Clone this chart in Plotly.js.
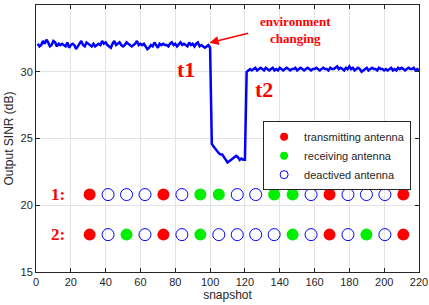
<!DOCTYPE html>
<html><head><meta charset="utf-8">
<script src="https://cdn.plot.ly/plotly-3.0.1.min.js"></script>
<style>html,body{margin:0;padding:0;background:#fff;}#chart{width:429px;height:305px;}</style>
</head><body><div id="chart"></div>
<script>
// SINR line, snapshots 1..220
const sinrBefore = [32.1,31.9,32.0,32.3,32.1,32.4,32.2,31.9,32.0,32.3,32.2,31.9,32.1,32.0,32.1,32.0,31.9,32.2,31.8,32.0,
  32.1,32.0,31.7,31.9,32.1,32.3,32.0,31.9,32.2,32.1,32.0,31.9,32.1,31.9,32.0,32.1,32.0,32.3,32.1,32.2,
  32.0,31.9,31.8,32.1,32.3,32.0,32.1,32.2,32.0,31.9,32.0,32.2,32.1,32.0,31.9,32.0,32.1,32.3,32.0,32.1,
  32.0,32.1,31.9,31.7,31.8,32.0,31.9,32.2,32.0,31.8,32.1,32.0,32.1,32.0,32.0,31.9,32.1,32.2,32.0,32.1,
  31.9,32.1,32.2,32.0,32.1,32.0,31.9,32.2,32.0,32.1,31.9,32.1,32.2,31.9,32.0,31.9,31.8,31.9,32.0,31.8];
const sinrDip = [24.6,24.4,24.2,24.0,23.9,23.8,23.8,23.6,23.4,23.2,23.3,23.4,23.5,23.6,23.7,23.6,23.4,23.5,23.4,23.4];
const sinrAfter = [30.0,30.1,30.2,30.1,30.2,30.3,30.1,30.2,30.3,30.2,30.1,30.3,30.2,30.1,30.2,30.3,30.1,30.2,30.1,30.3,
  30.2,30.1,30.2,30.3,30.2,30.1,30.2,30.2,30.3,30.1,30.2,30.3,30.2,30.1,30.2,30.3,30.2,30.1,30.2,30.2,
  30.3,30.2,30.1,30.2,30.3,30.2,30.2,30.1,30.3,30.2,30.2,30.3,30.4,30.2,30.3,30.2,30.1,30.3,30.2,30.4,
  30.2,30.3,30.1,30.2,30.3,30.2,30.0,30.1,30.2,30.3,30.1,30.2,30.3,30.2,30.2,30.1,30.3,30.2,30.2,30.1,
  30.2,30.1,30.2,30.3,30.1,30.2,30.1,30.3,30.2,30.3,30.2,30.1,30.2,30.3,30.2,30.2,30.3,30.1,30.2,30.1];
const sinr = sinrBefore.concat(sinrDip, sinrAfter);
const snapshots = sinr.map((_, i) => i + 1);

// antenna positions (snapshot axis) and states: T=transmitting, R=receiving, D=deactived
const antennaX = [30.8,41.4,52.0,62.6,73.2,83.8,94.4,105.0,115.6,126.2,136.8,147.4,158.0,168.6,179.2,189.8,200.4,211.0];
const row1Y = 20.8, row2Y = 17.8;
const row1 = ['T','D','D','D','T','D','R','R','D','D','R','R','D','T','D','D','D','T'];
const row2 = ['T','D','R','D','T','D','R','D','D','D','D','R','D','T','D','R','D','T'];
const legendNames = {T:'transmitting antenna', R:'receiving antenna', D:'deactived antenna'};

const markerStyle = {
  T: {color:'#ff0000', size:12, symbol:'circle'},
  R: {color:'#00ee00', size:12, symbol:'circle'},
  D: {color:'rgba(0,0,0,0)', size:12, symbol:'circle', line:{color:'#0000ff', width:1}}
};

const traces = [{
  x: snapshots, y: sinr, type:'scatter', mode:'lines',
  line:{color:'#0000ff', width:2.5}, showlegend:false, hoverinfo:'skip'
}];
['T','R','D'].forEach(k => {
  const xs = [], ys = [];
  row1.forEach((s,i)=>{ if(s===k){xs.push(antennaX[i]); ys.push(row1Y);} });
  row2.forEach((s,i)=>{ if(s===k){xs.push(antennaX[i]); ys.push(row2Y);} });
  traces.push({x:xs, y:ys, type:'scatter', mode:'markers', marker:markerStyle[k], showlegend:false});
});
['T','R','D'].forEach(k => {
  const m = Object.assign({}, markerStyle[k], {size:8});
  traces.push({x:[null], y:[null], type:'scatter', mode:'markers', marker:m, name:legendNames[k]});
});

const red = '#ff0000';
const serif = 'Liberation Serif, Times New Roman, serif';
const layout = {
  width:429, height:305,
  margin:{l:36, r:10, t:5, b:33},
  paper_bgcolor:'#fff', plot_bgcolor:'#fff',
  font:{family:'Liberation Sans, Arial, sans-serif', size:11, color:'#262626'},
  xaxis:{range:[0,220], tickvals:[0,20,40,60,80,100,120,140,160,180,200,220],
    showgrid:true, gridcolor:'#e3e3e3', zeroline:false, showline:true, linecolor:'#262626', linewidth:1,
    mirror:'ticks', ticks:'inside', ticklen:4, tickcolor:'#262626', tickfont:{size:11},
    title:{text:'snapshot', font:{size:12}, standoff:1}},
  yaxis:{range:[15,35], tickvals:[15,20,25,30,35],
    showgrid:true, gridcolor:'#e3e3e3', zeroline:false, showline:true, linecolor:'#262626', linewidth:1,
    mirror:'ticks', ticks:'inside', ticklen:4, tickcolor:'#262626', tickfont:{size:11},
    title:{text:'Output SINR (dB)', font:{size:12}, standoff:4}},
  legend:{x:0.593, y:0.565, xanchor:'left', yanchor:'top', bgcolor:'#fff', bordercolor:'#262626', borderwidth:1,
    font:{size:11, color:'#262626'}, tracegroupgap:0},
  showlegend:true,
  annotations:[
    {x:12.6, y:row1Y, text:'<b>1:</b>', showarrow:false, font:{family:serif, size:17, color:red}},
    {x:12.6, y:row2Y, text:'<b>2:</b>', showarrow:false, font:{family:serif, size:17, color:red}},
    {x:86.2, y:30.2, text:'<b>t1</b>', showarrow:false, font:{family:serif, size:22, color:red}},
    {x:131, y:28.7, text:'<b>t2</b>', showarrow:false, font:{family:serif, size:22, color:red}},
    {x:148.8, y:33.1, text:'<b>environment<br>changing</b>', showarrow:false, font:{family:serif, size:13, color:red}},
    {x:99.7, y:32.17, text:'', showarrow:true, ax:40, ay:-10, arrowcolor:red, arrowwidth:1.5, arrowhead:2, arrowsize:1.2}
  ]
};
Plotly.newPlot('chart', traces, layout, {staticPlot:true, displayModeBar:false});
</script></body></html>
